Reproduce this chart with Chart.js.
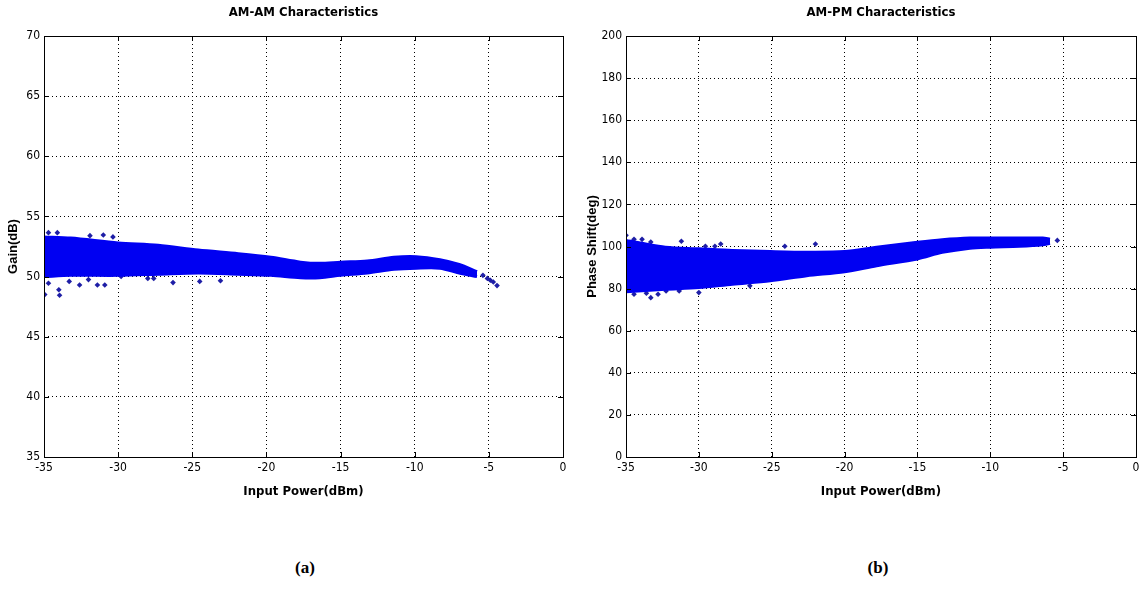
<!DOCTYPE html>
<html>
<head>
<meta charset="utf-8">
<script src="https://cdn.jsdelivr.net/npm/chart.js@4.4.0/dist/chart.umd.min.js"></script>
<style>
body { margin: 0; background: #fff; width: 1144px; height: 600px; position: relative; overflow: hidden; }
.box { position: absolute; top: 0; width: 572px; height: 510px; }
.cap { position: absolute; top: 558px; width: 60px; text-align: center;
       font: bold 17px "Liberation Serif", "Times New Roman", serif; color: #000; }
</style>
</head>
<body>
<div class="box" style="left:0"><canvas id="amam"></canvas></div>
<div class="box" style="left:572px"><canvas id="ampm"></canvas></div>
<div class="cap" style="left:275px">(a)</div>
<div class="cap" style="left:848px">(b)</div>
<script>
// tick labels
var xTicks = [-35, -30, -25, -20, -15, -10, -5, 0];
var amYTicks = [35, 40, 45, 50, 55, 60, 65, 70];
var pmYTicks = [0, 20, 40, 60, 80, 100, 120, 140, 160, 180, 200];

// AM-AM: edges of the dense band of points (gain, dB)
var amX      = [-35, -33.2, -30, -27.3, -24.6, -21.9, -19.7, -17.7, -16.4, -15.0, -13.2, -11.4, -9.9, -8.3, -7.0, -5.8];
var amTop    = [53.3, 53.2, 52.8, 52.6, 52.2, 51.9, 51.6, 51.2, 51.1, 51.2, 51.3, 51.6, 51.65, 51.4, 51.0, 50.4];
var amBottom = [50.0, 50.1, 50.1, 50.2, 50.3, 50.2, 50.1, 49.9, 49.9, 50.1, 50.3, 50.6, 50.7, 50.7, 50.3, 50.0];
// AM-AM: stray points and the tail
var amOutX = [-34.7, -34.1, -31.9, -31.0, -30.35, -34.95, -34.0, -33.95, -34.7, -33.3, -32.6, -31.4, -30.9, -32.0, -28.0, -27.6, -26.3, -24.5, -23.1, -29.8, -5.4, -5.1, -4.9, -4.7, -4.45];
var amOutY = [53.65, 53.65, 53.4, 53.45, 53.3, 48.5, 48.9, 48.45, 49.45, 49.6, 49.3, 49.3, 49.3, 49.75, 49.85, 49.85, 49.5, 49.6, 49.65, 50.0, 50.1, 49.85, 49.7, 49.55, 49.25];

// AM-PM: edges of the dense band of points (phase, deg)
var pmX      = [-35, -33.9, -32.3, -30, -27.7, -25.1, -22.6, -20, -17.8, -15, -13.3, -11.4, -10, -8, -6.4, -5.9];
var pmTop    = [102.9, 101.5, 99.7, 98.9, 98.1, 97.6, 97.3, 97.6, 99.7, 102.0, 103.2, 104.0, 104.0, 104.0, 104.0, 103.5];
var pmBottom = [78.5, 79.0, 79.7, 80.5, 82.1, 83.7, 86.1, 88.0, 90.9, 94.1, 97.2, 99.2, 99.7, 100.1, 100.8, 101.5];
// AM-PM: stray points
var pmOutX = [-35.0, -34.45, -33.9, -33.3, -31.2, -29.55, -28.9, -28.5, -24.1, -22.0, -34.45, -33.6, -33.3, -32.8, -32.25, -30.0, -26.5, -31.35, -5.4];
var pmOutY = [105.3, 103.4, 103.4, 102.1, 102.5, 100.1, 100.1, 101.2, 100.1, 101.2, 77.3, 77.8, 75.7, 77.3, 78.9, 78.1, 81.3, 78.9, 102.9];

var bandColor = 'rgb(0,0,242)';
var dotColor = '#1e1ea6';
var narrow = '"Liberation Sans Narrow", "DejaVu Sans Condensed", Arial, sans-serif';

function pts(xs, ys) {
	return xs.map(function (x, i) { return { x: x, y: ys[i] }; });
}

// box round the plot, MATLAB style inward ticks, and the title
var frame = {
	id: 'frame',
	afterDraw: function (chart) {
		var ctx = chart.ctx;
		var a = chart.chartArea;
		var xs = chart.scales.x, ys = chart.scales.y;
		ctx.save();
		ctx.strokeStyle = '#000';
		ctx.lineWidth = 1;
		ctx.beginPath();
		xs.ticks.forEach(function (t) {
			var px = Math.round(xs.getPixelForValue(t.value)) + 0.5;
			ctx.moveTo(px, a.bottom); ctx.lineTo(px, a.bottom - 5);
			ctx.moveTo(px, a.top); ctx.lineTo(px, a.top + 5);
		});
		ys.ticks.forEach(function (t) {
			var py = Math.round(ys.getPixelForValue(t.value)) + 0.5;
			ctx.moveTo(a.left, py); ctx.lineTo(a.left + 5, py);
			ctx.moveTo(a.right, py); ctx.lineTo(a.right - 5, py);
		});
		ctx.stroke();
		ctx.strokeRect(Math.round(a.left) + 0.5, Math.round(a.top) + 0.5,
			Math.round(a.right - a.left), Math.round(a.bottom - a.top));
		ctx.fillStyle = '#000';
		ctx.font = 'bold 13px ' + narrow;
		ctx.textAlign = 'center';
		ctx.textBaseline = 'middle';
		ctx.fillText(chart.options.plugins.frame.text, (a.left + a.right) / 2, 13);
		ctx.restore();
	}
};

function makeChart(id, title, yTitle, yTicks, yMin, yMax, axisWidth, titlePad, padRight,
		bx, bTop, bBottom, ox, oy) {
	return new Chart(document.getElementById(id), {
		type: 'line',
		data: {
			datasets: [{
				data: pts(bx, bTop),
				borderColor: bandColor, backgroundColor: bandColor,
				borderWidth: 3, pointRadius: 0, tension: 0.3, fill: false
			}, {
				data: pts(bx, bBottom),
				borderColor: bandColor, backgroundColor: bandColor,
				borderWidth: 3, pointRadius: 0, tension: 0.3, fill: '-1'
			}, {
				type: 'scatter',
				data: pts(ox, oy),
				pointStyle: 'rectRot', pointRadius: 2.8,
				backgroundColor: dotColor, borderColor: dotColor, borderWidth: 0
			}]
		},
		options: {
			responsive: true,
			maintainAspectRatio: false,
			animation: false,
			layout: { padding: { top: 36, right: padRight, left: 0, bottom: 0 } },
			plugins: {
				legend: { display: false },
				tooltip: { enabled: false },
				frame: { text: title }
			},
			scales: {
				x: {
					type: 'linear', min: -35, max: 0,
					afterBuildTicks: function (s) { s.ticks = xTicks.map(function (v) { return { value: v }; }); },
					afterFit: function (s) { s.height = 53; },
					grid: { color: '#000', lineWidth: 1, drawTicks: false },
					border: { display: false, dash: [1, 3] },
					ticks: { color: '#000', font: { family: narrow, size: 12 }, padding: 4, maxRotation: 0, autoSkip: false },
					title: { display: true, text: 'Input Power(dBm)', color: '#000',
						font: { family: narrow, size: 13, weight: 'bold' }, padding: { top: 0, bottom: 11 } }
				},
				y: {
					type: 'linear', min: yMin, max: yMax,
					afterBuildTicks: function (s) { s.ticks = yTicks.map(function (v) { return { value: v }; }); },
					afterFit: function (s) { s.width = axisWidth; },
					grid: { color: '#000', lineWidth: 1, drawTicks: false },
					border: { display: false, dash: [1, 3] },
					ticks: { color: '#000', font: { family: narrow, size: 12 }, padding: 4, autoSkip: false },
					title: { display: true, text: yTitle, color: '#000',
						font: { family: 'Arial, "Liberation Sans", sans-serif', size: 13, weight: 'bold' },
						padding: { top: titlePad, bottom: 0 } }
				}
			}
		},
		plugins: [frame]
	});
}

makeChart('amam', 'AM-AM Characteristics', 'Gain(dB)', amYTicks, 35, 70, 44, 6, 9,
	amX, amTop, amBottom, amOutX, amOutY);
makeChart('ampm', 'AM-PM Characteristics', 'Phase Shift(deg)', pmYTicks, 0, 200, 54, 13, 8,
	pmX, pmTop, pmBottom, pmOutX, pmOutY);
</script>
</body>
</html>
